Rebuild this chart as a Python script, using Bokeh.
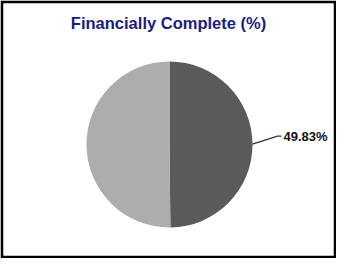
import numpy as np
from bokeh.plotting import figure
from bokeh.models import ColumnDataSource, Range1d
from bokeh.embed import file_html
from bokeh.resources import INLINE
from bokeh.core.properties import value

title_text = "Financially Complete (%)"
categories = ["Financially Complete", "Remaining"]
shares = [49.83, 50.17]
slice_colors = ["#5a5a5a", "#adadad"]
label_texts = ["49.83%", ""]

W, H = 336, 258
B = 3
FW, FH = W - 2 * B, H - 2 * B


def fx(x):
    return x - B


def fy(y):
    return FH - (y - B)


p = figure(width=W, height=H, output_backend="svg", toolbar_location=None,
           x_range=Range1d(0, FW), y_range=Range1d(0, FH),
           x_axis_location=None, y_axis_location=None,
           min_border_left=B, min_border_right=B, min_border_top=B, min_border_bottom=B,
           border_fill_color="black", background_fill_color="white",
           outline_line_color=None)
p.grid.visible = False

# pie layout (figure pixel coords)
cx, cy, r = 169, 144, 83

frac = np.array(shares) / np.sum(shares)
ends = np.cumsum(frac) * 2 * np.pi
starts = np.concatenate([[0], ends[:-1]])
start_ang = np.pi / 2 - starts
end_ang = np.pi / 2 - ends

src = ColumnDataSource(dict(cat=categories, start=start_ang, end=end_ang, color=slice_colors))
p.wedge(x=fx(cx), y=fy(cy), radius=r, radius_units="screen", start_angle="start", end_angle="end",
        direction="clock", fill_color="color", line_color=None, source=src)

# label with leader line for the first slice
mid = (start_ang[0] + end_ang[0]) / 2
rx = cx + r * np.cos(mid)
ry = cy - r * np.sin(mid)
ex, ey = rx + 25, ry - 8
p.line(x=[fx(rx), fx(ex), fx(ex + 4)], y=[fy(ry), fy(ey), fy(ey)], line_color="#333333", line_width=1.2)
p.text(x=[fx(ex + 6)], y=[fy(ey)], text=[label_texts[0]], text_font=value("Liberation Sans"),
       text_font_style="bold", text_font_size="13px", text_color="#111111",
       text_align="left", text_baseline="middle")

# title
p.text(x=[fx(168)], y=[fy(22)], text=[title_text], text_font=value("Liberation Sans"),
       text_font_style="bold", text_font_size="16.5px", text_color="#1c1c80",
       text_align="center", text_baseline="middle")

open("out.html", "w").write(file_html(p, INLINE))
